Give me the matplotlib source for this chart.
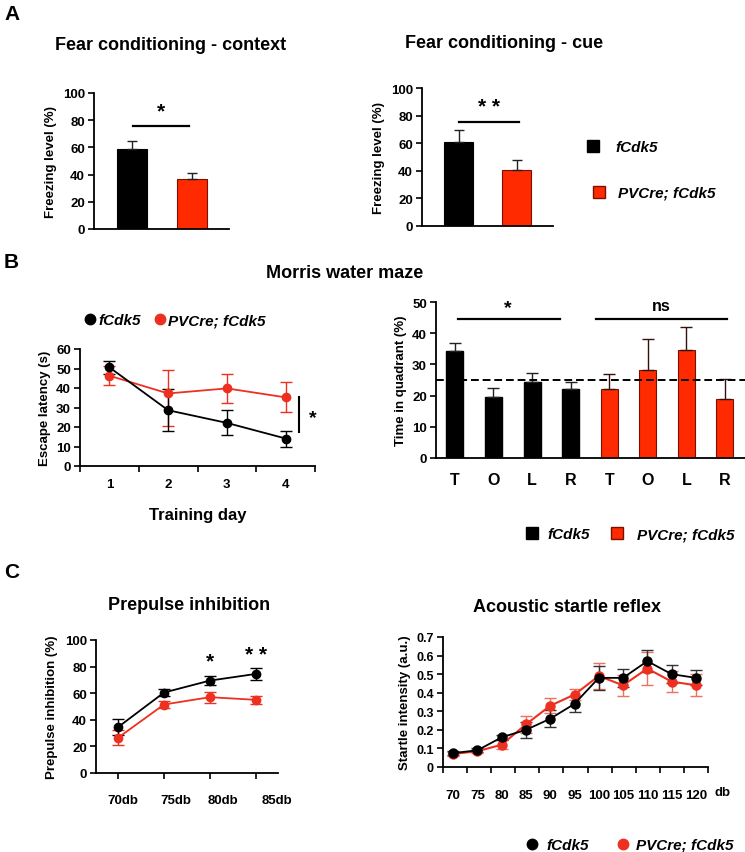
import numpy as np
import matplotlib
matplotlib.use('Agg')
from matplotlib import pyplot as plt
from matplotlib.lines import Line2D

plt.rcParams['font.family'] = ['Liberation Sans', 'DejaVu Sans']
plt.rcParams['font.weight'] = 'bold'
plt.rcParams['axes.labelweight'] = 'bold'

W, H = 745, 853
BLACK = '#000000'
RED = '#ff2a00'
RED_LINE = '#ee3020'

# data
groups = ['fCdk5', 'PVCre; fCdk5']
fc_context = [59, 37]
fc_context_err = [6, 4]
fc_cue = [61, 40.5]
fc_cue_err = [8.5, 7]

days = [1, 2, 3, 4]
mwm_ctrl = [50.6, 28.6, 22.1, 14.1]
mwm_ctrl_err = [3.5, 10.8, 6.4, 4.1]
mwm_pv = [46.3, 37.2, 39.8, 35.2]
mwm_pv_err_lo = [5, 16.5, 7.3, 7.7]
mwm_pv_err_hi = [5, 11.8, 7.3, 7.7]

quadrants = ['T', 'O', 'L', 'R']
quad_ctrl = [34.3, 19.7, 24.5, 22]
quad_ctrl_err = [2.5, 2.7, 2.8, 2.4]
quad_pv = [22, 28.2, 34.5, 19]
quad_pv_err = [5, 10, 7.5, 6.2]

ppi_labels = ['70db', '75db', '80db', '85db']
ppi_ctrl = [34.5, 60.5, 69.5, 74.5]
ppi_ctrl_err = [6, 2.5, 3.5, 4.5]
ppi_pv = [26.5, 51.5, 57, 55]
ppi_pv_err = [5.5, 3, 4, 3]

db = [70, 75, 80, 85, 90, 95, 100, 105, 110, 115, 120]
asr_ctrl = [0.075, 0.09, 0.16, 0.20, 0.26, 0.34, 0.48, 0.48, 0.57, 0.50, 0.48]
asr_ctrl_err = [0.01, 0.01, 0.012, 0.045, 0.045, 0.045, 0.065, 0.05, 0.06, 0.05, 0.04]
asr_pv = [0.07, 0.085, 0.12, 0.23, 0.33, 0.39, 0.49, 0.44, 0.53, 0.46, 0.44]
asr_pv_err = [0.01, 0.012, 0.025, 0.045, 0.04, 0.03, 0.07, 0.055, 0.09, 0.055, 0.06]

fig = plt.figure(figsize=(W / 100, H / 100), dpi=100)


def add_ax(l, t, r, b, tsize=9.5):
    ax = fig.add_axes([l / W, 1 - b / H, (r - l) / W, (b - t) / H])
    for s in ['top', 'right']:
        ax.spines[s].set_visible(False)
    for s in ['left', 'bottom']:
        ax.spines[s].set_linewidth(1.3)
    ax.tick_params(labelsize=tsize, width=1.2, length=4, direction='out', pad=2.5)
    return ax


def ftext(x, y, s, **kw):
    fig.text(x / W, 1 - y / H, s, **kw)


def fmark(x, y, **kw):
    fig.add_artist(Line2D([x / W], [1 - y / H], transform=fig.transFigure, **kw))


# ---------- A ----------
ftext(4, 14, 'A', fontsize=15, va='center')
ftext(171, 45, 'Fear conditioning - context', fontsize=13, ha='center', va='center')
ftext(504, 43, 'Fear conditioning - cue', fontsize=13, ha='center', va='center')

for box, vals, errs, stars, sig_x in [((94, 94, 229, 230), fc_context, fc_context_err, '*', (0.02, 0.95)),
                                       ((422, 89, 553, 227), fc_cue, fc_cue_err, '* *', (0.0, 1.03))]:
    ax = add_ax(*box)
    ax.bar([0, 1], vals, width=0.5, color=[BLACK, RED], edgecolor=[BLACK, '#7a1000'], linewidth=0.8)
    ax.errorbar([0, 1], vals, yerr=[[0, 0], errs], fmt='none', ecolor='#222222', elinewidth=1, capsize=3.5)
    ax.set_xlim(-0.63, 1.62)
    ax.set_ylim(0, 100)
    ax.set_yticks(range(0, 101, 20))
    ax.set_xticks([])
    ax.set_ylabel('Freezing level (%)', fontsize=9.5, labelpad=4)
    ax.plot(sig_x, [75.5, 75.5], color=BLACK, lw=1.6)
    ax.text(np.mean(sig_x), 80, stars, ha='center', va='bottom', fontsize=15)

fmark(593, 147, marker='s', ms=8, color=BLACK, ls='none')
ftext(615, 148, groups[0], fontsize=11, style='italic', va='center')
fmark(599, 193, marker='s', ms=8, color=RED, mec='#7a1000', ls='none')
ftext(618, 194, groups[1], fontsize=11, style='italic', va='center')

# ---------- B ----------
ftext(4, 263, 'B', fontsize=15, va='center')
ftext(345, 273, 'Morris water maze', fontsize=13, ha='center', va='center')

ax = add_ax(80, 350, 315, 467)
ax.errorbar(days, mwm_pv, yerr=[mwm_pv_err_lo, mwm_pv_err_hi], color=RED_LINE, marker='o', ms=6,
            lw=1.3, elinewidth=1, capsize=4)
ax.errorbar(days, mwm_ctrl, yerr=mwm_ctrl_err, color=BLACK, marker='o', ms=6,
            lw=1.3, elinewidth=1, capsize=4)
ax.set_xlim(0.5, 4.5)
ax.set_ylim(0, 60)
ax.set_yticks(range(0, 61, 10))
ax.set_xticks(days)
ax.set_xticks([0.5, 1.5, 2.5, 3.5, 4.5], minor=True)
ax.tick_params(axis='x', which='major', length=0, pad=9)
ax.tick_params(axis='x', which='minor', length=4, width=1.2)
ax.set_ylabel('Escape latency (s)', fontsize=9.5, labelpad=4)
ax.set_xlabel('Training day', fontsize=12, labelpad=12)
ax.plot([4.22, 4.22], [17.4, 35.4], color=BLACK, lw=1.5, clip_on=False)
ax.text(4.46, 25, '*', ha='center', va='center', fontsize=14, clip_on=False)

fmark(90, 320, marker='o', ms=7.5, color=BLACK, ls='none')
ftext(98, 321, groups[0], fontsize=11, style='italic', va='center')
fmark(160, 320, marker='o', ms=7.5, color=RED_LINE, ls='none')
ftext(168, 321, groups[1], fontsize=11, style='italic', va='center')

ax = add_ax(436, 303, 745, 459)
xc = np.arange(4)
xp = np.arange(4, 8)
ax.bar(xc, quad_ctrl, width=0.44, color=BLACK, edgecolor=BLACK)
ax.bar(xp, quad_pv, width=0.44, color=RED, edgecolor='#7a1000', linewidth=0.8)
ax.errorbar(xc, quad_ctrl, yerr=[[0] * 4, quad_ctrl_err], fmt='none', ecolor='#222222', elinewidth=1, capsize=4)
ax.errorbar(xp, quad_pv, yerr=[[0] * 4, quad_pv_err], fmt='none', ecolor='#331111', elinewidth=1, capsize=4)
ax.axhline(25, color=BLACK, lw=1.4, ls=(0, (4, 2)))
ax.set_xlim(-0.49, 7.52)
ax.set_ylim(0, 50)
ax.set_yticks(range(0, 51, 10))
ax.set_xticks(np.arange(8))
ax.set_xticklabels(quadrants * 2, fontsize=11.5)
ax.tick_params(axis='x', length=0, pad=10)
ax.set_ylabel('Time in quadrant (%)', fontsize=9.5, labelpad=4)
ax.plot([0.07, 2.73], [44.5, 44.5], color=BLACK, lw=1.6, clip_on=False)
ax.text(1.38, 45.5, '*', ha='center', va='bottom', fontsize=14)
ax.plot([3.65, 7.05], [44.5, 44.5], color=BLACK, lw=1.6, clip_on=False)
ax.text(5.35, 46.5, 'ns', ha='center', va='bottom', fontsize=11.5, clip_on=False)

fmark(532, 534, marker='s', ms=8, color=BLACK, ls='none')
ftext(547, 535, groups[0], fontsize=11, style='italic', va='center')
fmark(617, 534, marker='s', ms=8, color=RED, mec='#7a1000', ls='none')
ftext(637, 535, groups[1], fontsize=11, style='italic', va='center')

# ---------- C ----------
ftext(4, 573, 'C', fontsize=15, va='center')
ftext(189, 606, 'Prepulse inhibition', fontsize=13, ha='center', va='center')
ftext(567, 608, 'Acoustic startle reflex', fontsize=13, ha='center', va='center')

ax = add_ax(96, 641, 278, 774)
px = np.arange(1, 5)
ax.errorbar(px, ppi_pv, yerr=ppi_pv_err, color=RED_LINE, marker='o', ms=6, lw=1.3, elinewidth=1, capsize=4)
ax.errorbar(px, ppi_ctrl, yerr=ppi_ctrl_err, color=BLACK, marker='o', ms=6, lw=1.3, elinewidth=1, capsize=4)
ax.set_xlim(0.52, 4.48)
ax.set_ylim(0, 100)
ax.set_yticks(range(0, 101, 20))
ax.set_xticks([1.1, 2.25, 3.28, 4.46])
ax.set_xticklabels(ppi_labels, fontsize=9.5)
ax.set_xticks(px, minor=True)
ax.tick_params(axis='x', which='major', length=0, pad=15)
ax.tick_params(axis='x', which='minor', length=4, width=1.2)
ax.set_ylabel('Prepulse inhibition (%)', fontsize=9.5, labelpad=5)
ax.text(3, 84, '*', ha='center', va='center', fontsize=15)
ax.text(4, 89, '* *', ha='center', va='center', fontsize=15, clip_on=False)

ax = add_ax(443, 638, 708, 768, tsize=9)
ix = np.arange(len(db))
ax.errorbar(ix, asr_pv, yerr=asr_pv_err, color=RED_LINE, ecolor='#f07060', marker='o', ms=6.5,
            lw=1.5, elinewidth=1, capsize=4)
ax.errorbar(ix, asr_ctrl, yerr=asr_ctrl_err, color=BLACK, ecolor='#333333', marker='o', ms=6.5,
            lw=1.3, elinewidth=1, capsize=4)
ax.set_xlim(-0.42, 10.5)
ax.set_ylim(0, 0.7)
ax.set_yticks(np.arange(0, 0.71, 0.1))
ax.set_yticklabels(['0'] + ['%.1f' % v for v in np.arange(0.1, 0.71, 0.1)])
ax.set_xticks(ix)
ax.set_xticklabels([str(d) for d in db], fontsize=9.5)
ax.set_xticks(np.linspace(-0.42, 10.5, 12), minor=True)
ax.tick_params(axis='x', which='major', length=0, pad=16)
ax.tick_params(axis='x', which='minor', length=4, width=1.2)
ax.set_ylabel('Startle intensity (a.u.)', fontsize=9.5, labelpad=4)
ax.text(11.1, -0.135, 'db', ha='center', va='center', fontsize=9.5, clip_on=False)

fmark(532, 845, marker='o', ms=7.5, color=BLACK, ls='none')
ftext(546, 846, groups[0], fontsize=11, style='italic', va='center')
fmark(623, 845, marker='o', ms=7.5, color=RED_LINE, ls='none')
ftext(636, 846, groups[1], fontsize=11, style='italic', va='center')

fig.savefig('out.png', dpi=100)
